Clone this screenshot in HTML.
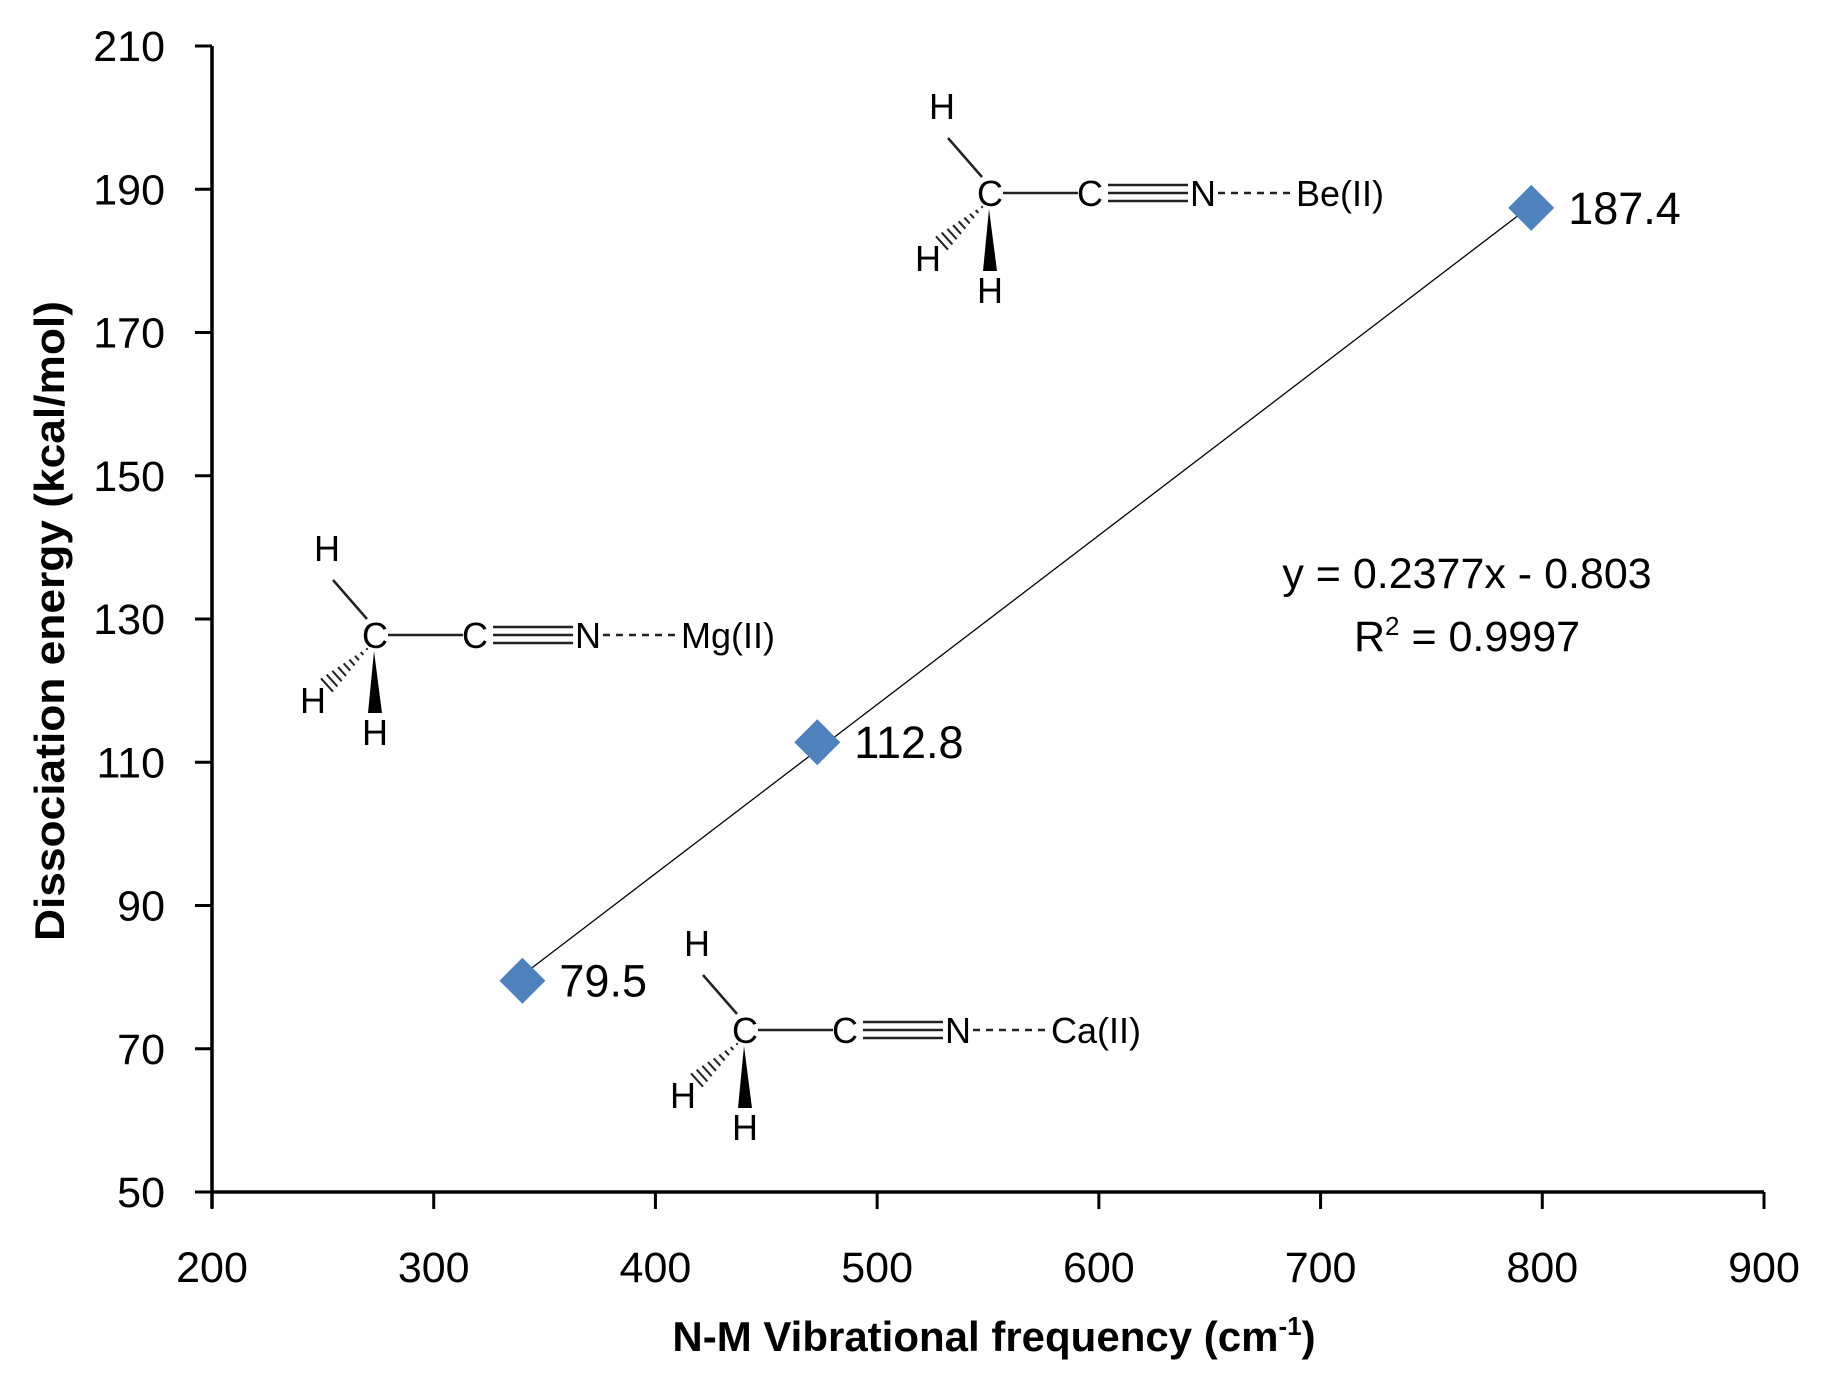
<!DOCTYPE html>
<html><head><meta charset="utf-8"><style>
html,body{margin:0;padding:0;background:#fff}
svg{display:block}
text{font-family:"Liberation Sans",sans-serif;fill:#000}
</style></head><body>
<svg id="chart" width="1830" height="1381" viewBox="0 0 1830 1381">
<g id="axes"></g>
<g id="marks"></g>
<g id="mols"></g>
<text x="1467" y="588" font-size="43" text-anchor="middle">y = 0.2377x - 0.803</text>
<text x="1467" y="651" font-size="43" text-anchor="middle">R<tspan font-size="26" dy="-16">2</tspan><tspan dy="16"> = 0.9997</tspan></text>
<text transform="translate(64,621) rotate(-90)" font-size="42" font-weight="bold" text-anchor="middle" textLength="640" lengthAdjust="spacingAndGlyphs">Dissociation energy (kcal/mol)</text>
<text x="994" y="1351" font-size="42" font-weight="bold" text-anchor="middle">N-M Vibrational frequency (cm<tspan font-size="26" dy="-16">-1</tspan><tspan dy="16">)</tspan></text>
</svg>
<script>
const xTicks=[200,300,400,500,600,700,800,900];
const yTicks=[50,70,90,110,130,150,170,190,210];
const freqs=[340,473,795];
const energies=[79.5,112.8,187.4];
const labels=["79.5","112.8","187.4"];
const molecules=[{metal:"Be(II)",x:990,y:193},{metal:"Mg(II)",x:375,y:635},{metal:"Ca(II)",x:745,y:1030}];

const NS="http://www.w3.org/2000/svg";
const X0=212,X1=1764,Y0=1192,Y1=46;
const sx=v=>X0+(v-200)/(900-200)*(X1-X0);
const sy=v=>Y0-(v-50)/(210-50)*(Y0-Y1);
function mk(tag,attrs,parent,txt){const e=document.createElementNS(NS,tag);for(const k in attrs)e.setAttribute(k,attrs[k]);if(txt!==undefined)e.textContent=txt;parent.appendChild(e);return e;}
const axes=document.getElementById('axes');
let e;
e=mk('line',{x1:X0,y1:Y0,x2:X1,y2:Y0,stroke:'#000','stroke-width':3.5},axes);


e=mk('line',{x1:X0,y1:Y0+16,x2:X0,y2:Y1,stroke:'#000','stroke-width':3.5},axes);


xTicks.forEach(t=>{
 const x=sx(t);
 e=mk('line',{x1:x,y1:Y0,x2:x,y2:Y0+17,stroke:'#000','stroke-width':3},axes);
 
 
 e=mk('text',{x:x,y:Y0+90,'font-size':43,'text-anchor':'middle'},axes,String(t));
 
 
});
yTicks.forEach(t=>{
 const y=sy(t);
 e=mk('line',{x1:X0-17,y1:y,x2:X0,y2:y,stroke:'#000','stroke-width':3},axes);
 
 
 e=mk('text',{x:X0-47,y:y+15,'font-size':43,'text-anchor':'end'},axes,String(t));
 
 
});
const n=freqs.length,mx=freqs.reduce((a,b)=>a+b)/n,my=energies.reduce((a,b)=>a+b)/n;
let sxy=0,sxx=0;for(let i=0;i<n;i++){sxy+=(freqs[i]-mx)*(energies[i]-my);sxx+=(freqs[i]-mx)**2;}
const m=sxy/sxx,b=my-m*mx,fmin=Math.min(...freqs),fmax=Math.max(...freqs);
const marks=document.getElementById('marks');
e=mk('line',{x1:sx(fmin),y1:sy(m*fmin+b),x2:sx(fmax),y2:sy(m*fmax+b),stroke:'#000','stroke-width':1.3},marks);


freqs.forEach((f,i)=>{
 const x=sx(f),y=sy(energies[i]),r=23;
 e=mk('polygon',{points:`${x},${y-r} ${x+r},${y} ${x},${y+r} ${x-r},${y}`,fill:'#4F81BD'},marks);
 
 
 e=mk('text',{x:x+37,y:y+16,'font-size':45},marks,labels[i]);
 
 
});
const mols=document.getElementById('mols');
molecules.forEach(M=>{
 const g=mk('g',{transform:`translate(${M.x},${M.y})`},mols);
 
 
 const T=(x,y,s)=>mk('text',{x:x,y:y,'font-size':36,'text-anchor':'middle'},g,s);
 T(0,13,'C');T(-48,-74,'H');T(-62,78,'H');T(0,110,'H');
 T(100,13,'C');T(213,13,'N');
 mk('text',{x:306,y:13,'font-size':36},g,M.metal);
 const L=(x1,y1,x2,y2,w)=>mk('line',{x1,y1,x2,y2,stroke:'#222','stroke-width':w||2.5},g);
 L(-42,-55,-8,-16);L(13,0,88,0);
 L(118,-8,198,-8);L(118,0,198,0);L(118,8,198,8);
 mk('line',{x1:228,y1:0,x2:306,y2:0,stroke:'#222','stroke-width':2.5,'stroke-dasharray':'7,6'},g);
 mk('polygon',{points:'-1,16 -7,78 7,78',fill:'#000'},g);
 // hashed wedge: segments perpendicular to bond direction (-0.74,0.67)
 for(let k=0;k<9;k++){const t=k/8,cx=-8-t*40,cy=14+t*36,len=1+t*8;
   const px=0.67,py=0.74; L(cx-px*len,cy-py*len,cx+px*len,cy+py*len,2);}
});
</script>
</body></html>
